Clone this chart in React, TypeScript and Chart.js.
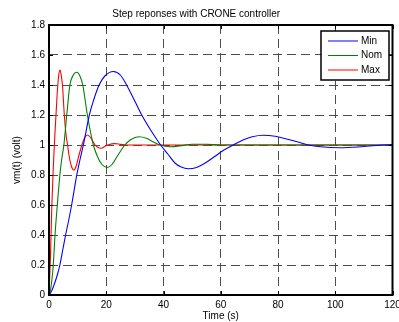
import React, { useEffect, useRef } from "react";
import { Chart, registerables } from "chart.js";

Chart.register(...registerables);

const TITLE = "Step reponses with CRONE controller";
const X_TITLE = "Time (s)";
const Y_TITLE = "vm(t) (volt)";
const SERIES_LABELS = ["Min", "Nom", "Max"];
const SERIES_COLORS = ["#0000ff", "#008000", "#ff0000"];

const minT = [0, 1, 2, 3, 3.8, 4.8, 5.8, 6.9, 7.9, 8.8, 9.7, 10.8, 12, 14.1, 15.6, 17.5, 19.5, 22.5, 25, 27.1, 29.8, 32.4, 35.5, 39, 41.5, 44, 46, 48.7, 51.5, 55, 58, 61, 64.4, 68, 71, 74.9, 79, 83, 87, 90.6, 95, 101.7, 108, 113, 117, 120];
const minV = [0, 0.03, 0.08, 0.14, 0.2, 0.3, 0.4, 0.5, 0.6, 0.7, 0.8, 0.9, 1.0, 1.2, 1.3, 1.4, 1.46, 1.49, 1.465, 1.4, 1.3, 1.2, 1.1, 1.0, 0.94, 0.88, 0.855, 0.842, 0.85, 0.885, 0.925, 0.965, 1.0, 1.035, 1.055, 1.065, 1.058, 1.04, 1.02, 1.0, 0.988, 0.982, 0.987, 0.995, 1.0, 1.003];

const nomT = [0, 0.5, 1, 1.5, 2.1, 2.9, 3.8, 4.4, 5.2, 6.2, 7.3, 8.3, 9.7, 10.8, 11.8, 13.4, 15.5, 17, 18.5, 20.4, 22, 24, 26.5, 28.5, 31.4, 34, 36.5, 38.8, 42.3, 46, 50, 55, 60, 120];
const nomV = [0, 0.03, 0.1, 0.2, 0.4, 0.6, 0.8, 0.9, 1.0, 1.2, 1.4, 1.46, 1.485, 1.46, 1.4, 1.2, 1.0, 0.92, 0.87, 0.85, 0.87, 0.93, 1.0, 1.035, 1.055, 1.045, 1.02, 1.0, 0.988, 0.995, 1.005, 1.005, 1.0, 1.0];

const maxT = [0, 0.5, 1, 1.5, 2, 2.5, 3, 3.5, 3.85, 4.3, 4.7, 5.35, 6, 6.5, 7, 7.8, 8.7, 9.5, 10.3, 11.5, 12.5, 13.4, 14.5, 16.1, 17, 18.2, 19.5, 21, 23, 25, 27, 120];
const maxV = [0, 0.25, 0.6, 0.85, 1.05, 1.22, 1.38, 1.48, 1.5, 1.46, 1.4, 1.2, 1.06, 1.0, 0.93, 0.86, 0.833, 0.86, 0.92, 1.0, 1.05, 1.067, 1.05, 1.0, 0.985, 0.978, 0.99, 1.003, 1.009, 1.004, 1.0, 1.0];

const X_MIN = 0;
const X_MAX = 120;
const X_STEP = 20;
const Y_MIN = 0;
const Y_MAX = 1.8;
const Y_STEP = 0.2;

const FONT = "'Liberation Sans', Arial, Helvetica, sans-serif";

const boxPlugin = {
  id: "matlabBox",
  afterDatasetsDraw(chart: any) {
    const { ctx, chartArea } = chart;
    const { left, right, top, bottom } = chartArea;
    const xs = chart.scales.x;
    const ys = chart.scales.y;
    ctx.save();
    ctx.strokeStyle = "#000";
    // inner ticks
    ctx.lineWidth = 1;
    ctx.beginPath();
    const tl = 4;
    for (let v = X_MIN; v <= X_MAX + 1e-9; v += X_STEP) {
      const px = Math.round(xs.getPixelForValue(v)) + 0.5;
      ctx.moveTo(px, bottom);
      ctx.lineTo(px, bottom - tl);
      ctx.moveTo(px, top);
      ctx.lineTo(px, top + tl);
    }
    for (let i = 0; i <= Math.round((Y_MAX - Y_MIN) / Y_STEP); i++) {
      const v = Y_MIN + i * Y_STEP;
      const py = Math.round(ys.getPixelForValue(v)) + 0.5;
      ctx.moveTo(left, py);
      ctx.lineTo(left + tl, py);
      ctx.moveTo(right, py);
      ctx.lineTo(right - tl, py);
    }
    ctx.stroke();
    // box
    ctx.lineWidth = 2;
    ctx.strokeRect(left, top, right - left, bottom - top);

    // legend
    const lw = 68;
    const lh = 49;
    const lx = right - 3.5 - lw;
    const ly = top + 6;
    ctx.fillStyle = "#fff";
    ctx.fillRect(lx, ly, lw, lh);
    ctx.lineWidth = 1.5;
    ctx.strokeStyle = "#000";
    ctx.strokeRect(lx, ly, lw, lh);
    ctx.font = `10px ${FONT}`;
    ctx.textBaseline = "middle";
    ctx.textAlign = "left";
    chart.data.datasets.forEach((ds: any, i: number) => {
      const yy = ly + 10 + i * 14.5;
      ctx.strokeStyle = ds.borderColor;
      ctx.lineWidth = 1;
      ctx.beginPath();
      ctx.moveTo(lx + 7, yy);
      ctx.lineTo(lx + 37, yy);
      ctx.stroke();
      ctx.fillStyle = "#000";
      ctx.fillText(ds.label, lx + 40, yy);
    });
    ctx.restore();
  },
};

export default function App() {
  const ref = useRef<HTMLCanvasElement>(null);

  useEffect(() => {
    document.body.style.margin = "0";
    const canvas = ref.current;
    if (!canvas) return;
    const seriesT = [minT, nomT, maxT];
    const seriesV = [minV, nomV, maxV];
    const chart = new Chart(canvas, {
      type: "line",
      data: {
        datasets: SERIES_LABELS.map((label, i) => ({
          label,
          data: seriesT[i].map((t, j) => ({ x: t, y: seriesV[i][j] })),
          borderColor: SERIES_COLORS[i],
          backgroundColor: SERIES_COLORS[i],
          borderWidth: 1.1,
          pointRadius: 0,
          fill: false,
          cubicInterpolationMode: "monotone" as const,
        })),
      },
      options: {
        responsive: false,
        animation: false,
        devicePixelRatio: 1,
        layout: { padding: { left: 0, right: 6.5, top: 0, bottom: 0 } },
        plugins: {
          legend: { display: false },
          tooltip: { enabled: false },
          title: {
            display: true,
            text: TITLE,
            color: "#000",
            font: { family: FONT, size: 10, weight: "normal" as const, lineHeight: 1.2 },
            padding: { top: 8, bottom: 5 },
          },
        },
        scales: {
          x: {
            type: "linear",
            min: X_MIN,
            max: X_MAX,
            ticks: {
              stepSize: X_STEP,
              color: "#000",
              padding: 4,
              maxRotation: 0,
              font: { family: FONT, size: 10 },
            },
            grid: { color: "#4d4d4d", lineWidth: 1, drawTicks: false },
            border: { display: false, dash: [9, 5] },
            title: {
              display: true,
              text: X_TITLE,
              color: "#000",
              font: { family: FONT, size: 10, lineHeight: 1.2 },
              padding: { top: 0, bottom: 0 },
            },
            afterFit(scale: any) {
              scale.height = 27;
              scale.paddingLeft = 0;
              scale.paddingRight = 0;
            },
          },
          y: {
            type: "linear",
            min: Y_MIN,
            max: Y_MAX,
            ticks: {
              stepSize: Y_STEP,
              color: "#000",
              padding: 4,
              font: { family: FONT, size: 10 },
              callback: (v: any) => String(Math.round(Number(v) * 10) / 10),
            },
            grid: { color: "#4d4d4d", lineWidth: 1, drawTicks: false },
            border: { display: false, dash: [9, 5] },
            title: {
              display: true,
              text: Y_TITLE,
              color: "#000",
              font: { family: FONT, size: 10, lineHeight: 1.2 },
              padding: { top: 11, bottom: 0 },
            },
            afterFit(scale: any) {
              scale.width = 49;
              scale.paddingTop = 0;
              scale.paddingBottom = 0;
            },
          },
        },
      },
      plugins: [boxPlugin],
    });
    return () => chart.destroy();
  }, []);

  return (
    <div style={{ position: "absolute", left: 0, top: 0, width: 399, height: 322, background: "#fff" }}>
      <canvas ref={ref} width={399} height={322} />
    </div>
  );
}
